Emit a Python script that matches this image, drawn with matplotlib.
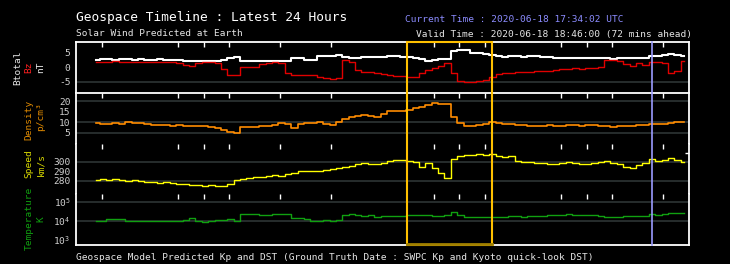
import numpy as np
import matplotlib
matplotlib.use('Agg')
import matplotlib.pyplot as plt
from matplotlib.patches import Rectangle
from matplotlib.lines import Line2D
from matplotlib.transforms import blended_transform_factory
from matplotlib.ticker import NullFormatter

# ---------------- data ----------------
hours = np.round(np.arange(0.80, 23.81, 0.25), 2)

bt = [2.5, 2.8, 2.9, 2.7, 3.0, 2.8, 2.7, 2.9, 2.6, 2.6,
      2.8, 2.5, 2.7, 2.6, 2.3, 2.1, 2.1, 2.2, 2.1, 2.1,
      2.4, 3.2, 3.5, 2.1, 2.1, 2.1, 2.3, 2.1, 2.1, 2.1,
      2.2, 3.4, 3.3, 2.7, 2.7, 3.8, 3.9, 4.1, 4.2, 3.5,
      3.4, 3.3, 3.6, 3.7, 3.5, 3.7, 3.9, 3.8, 3.7, 3.6,
      3.3, 2.8, 2.3, 2.6, 2.8, 3.0, 5.6, 6.0, 5.9, 5.0,
      4.9, 4.8, 4.2, 3.8, 3.7, 3.8, 3.8, 3.7, 3.8, 3.8,
      3.7, 3.6, 3.3, 3.3, 3.3, 3.2, 3.3, 3.3, 3.2, 3.3,
      3.1, 3.0, 3.2, 3.1, 3.3, 3.2, 3.4, 3.8, 4.0, 4.2,
      4.5, 4.4, 4.0]

bz = [1.8, 2.0, 1.9, 2.1, 1.8, 2.0, 1.9, 1.7, 2.0, 1.9,
      1.8, 1.9, 1.8, 1.6, 0.8, 0.5, 1.6, 1.7, 1.8, 1.6,
      -0.5, -2.5, -2.7, 0.1, 0.0, 0.3, 1.0, 1.6, 1.7, 1.5,
      -1.8, -2.5, -2.7, -2.6, -2.8, -3.3, -3.7, -3.9, -3.6, 2.6,
      1.8, -0.8, -1.5, -1.7, -1.8, -2.2, -2.8, -2.9, -2.9, -3.3,
      -3.4, -1.8, -0.9, -0.2, 0.6, 1.4, -2.0, -4.8, -5.2, -4.9,
      -4.6, -4.3, -3.5, -2.3, -2.1, -1.8, -1.7, -1.6, -1.5, -1.4,
      -1.3, -1.2, -0.8, -0.6, -0.5, -0.3, -0.6, -0.2, -0.1, 0.1,
      2.5, 2.6, 2.3, 1.2, 0.5, 1.4, 0.8, 1.9, 1.7, 1.5,
      -2.0, -1.2, 2.2]

density = [9.6, 9.0, 9.2, 9.7, 9.4, 10.0, 9.5, 9.6, 9.1, 8.7,
           8.8, 8.6, 8.5, 8.8, 8.4, 8.5, 8.2, 8.4, 7.9, 7.3,
           6.5, 5.6, 5.2, 7.6, 7.8, 8.0, 8.1, 8.3, 8.6, 9.6,
           9.3, 7.3, 9.0, 9.7, 9.9, 10.3, 9.0, 8.6, 10.3, 11.8,
           12.4, 13.0, 13.5, 13.2, 12.6, 13.8, 15.4, 15.6, 15.2, 16.0,
           16.6, 17.2, 18.2, 19.1, 18.8, 18.9, 12.5, 9.5, 8.3, 8.1,
           8.6, 9.2, 10.2, 9.8, 9.4, 9.1, 8.7, 8.6, 8.4, 8.3,
           8.2, 8.6, 8.4, 8.5, 8.7, 8.8, 8.5, 8.7, 8.9, 8.5,
           8.4, 8.0, 8.1, 8.5, 8.3, 8.6, 8.9, 9.1, 9.0, 9.4,
           9.8, 10.0, 10.4]

speed = [281, 282, 281, 282, 281, 280, 281, 280, 279, 279,
         278, 279, 278, 277, 277, 276, 276, 275, 276, 275,
         275, 277, 281, 282, 283, 284, 284, 285, 286, 285,
         287, 288, 290, 291, 290, 291, 292, 293, 294, 295,
         296, 298, 299, 298, 298, 299, 301, 302, 302, 301,
         300, 295, 299, 294, 288, 283, 303, 306, 307, 307,
         308, 307, 308, 306, 305, 306, 301, 300, 300, 299,
         299, 298, 298, 299, 300, 299, 298, 298, 299, 300,
         301, 299, 298, 295, 294, 297, 299, 303, 301, 302,
         304, 302, 300]

temperature = [10000, 9500, 12000, 12600, 12600, 9500, 9300, 9100, 9500, 9300,
               9500, 9800, 9500, 10000, 11200, 14100, 9500, 8900, 9500, 10500,
               11200, 12000, 9500, 22400, 22900, 22400, 21400, 20900, 21900, 22900,
               24000, 14100, 13200, 12000, 10000, 9800, 10500, 10000, 10700, 20000,
               22900, 20000, 18600, 19100, 16600, 17400, 18200, 18600, 17800, 20000,
               20900, 21400, 20000, 17800, 18600, 19100, 30200, 20000, 15800, 15800,
               15800, 15800, 15800, 16600, 15800, 17400, 17800, 16600, 18200, 17800,
               18600, 20000, 21400, 20900, 21900, 20000, 21400, 20900, 20000, 17800,
               15800, 15800, 16600, 17800, 18200, 17800, 18600, 22400, 21400, 23400,
               25100, 25100, 26300]

tick_hours = [1, 4, 5, 6, 8, 10, 14, 15, 16, 19, 20, 21, 23]
box_start, box_end = 12.96, 16.29
now_hour = 22.55

# ---------------- layout ----------------
W, H = 730, 264
fig = plt.figure(figsize=(W / 100, H / 100), dpi=100, facecolor='black')
mono = 'DejaVu Sans Mono'
plt.rcParams['font.family'] = mono
plt.rcParams['mathtext.default'] = 'regular'

def fx(px):
    return px / W

def fy(py):
    return 1 - py / H

left_px, right_px, top_px, bot_px = 76, 689, 42, 245
ph = (bot_px - top_px) / 4.0
axes = []
for i in range(4):
    t = top_px + i * ph
    ax = fig.add_axes([fx(left_px), fy(t + ph), fx(right_px) - fx(left_px), ph / H])
    ax.set_facecolor('black')
    ax.set_xlim(0, 24)
    axes.append(ax)

ax1, ax2, ax3, ax4 = axes
grid_c = '#293030'
tick_c = '#d0d0d0'
fs_small = 6.8

specs = [
    (ax1, (-8.8, 8.8), [5, 0, -5], ['5', '0', '-5'], [-5], [-5]),
    (ax2, (0, 24), [20, 15, 10, 5], ['20', '15', '10', '5'], [20, 10, 5], [20, 10, 5]),
    (ax3, (266, 319.5), [300, 290, 280], ['300', '290', '280'], [300, 280], [310, 300, 280]),
]
for ax, yl, yt, ylab, grid_vals, right_vals in specs:
    ax.set_ylim(*yl)
    ax.set_yticks(yt)
    ax.set_yticklabels(ylab)
    for g in grid_vals:
        ax.axhline(g, color=grid_c, lw=1.3, zorder=1)
    ax.set_yticks(right_vals, minor=True)

ax4.set_yscale('log')
ax4.set_ylim(10 ** 2.69, 10 ** 5.42)
ax4.set_yticks([1e5, 1e4, 1e3])
ax4.set_yticklabels([r'$10^5$', r'$10^4$', r'$10^3$'])
ax4.set_yticks([1e5, 1e4], minor=True)
ax4.yaxis.set_minor_formatter(NullFormatter())
for g in [1e5, 1e4]:
    ax4.axhline(g, color=grid_c, lw=1.3, zorder=1)

for i, ax in enumerate(axes):
    ax.tick_params(axis='y', which='major', left=True, right=False, length=0,
                   pad=4, labelsize=fs_small, labelcolor=tick_c)
    ax.tick_params(axis='y', which='minor', left=False, right=True, direction='in',
                   length=3, width=1, color='white')
    ax.set_xticks(tick_hours)
    ax.tick_params(axis='x', which='major', top=True, bottom=False, direction='in',
                   length=3.5, width=1, color='white', labelbottom=False, labeltop=False)
    ax.tick_params(axis='x', which='minor', top=False, bottom=False)
    for s in ['left', 'right']:
        ax.spines[s].set_color('white')
        ax.spines[s].set_linewidth(1.3)
    ax.spines['top'].set_visible(i < 2)
    ax.spines['top'].set_color('white')
    ax.spines['top'].set_linewidth(1.3)
    ax.spines['bottom'].set_visible(i == 3)
    ax.spines['bottom'].set_color('white')
    ax.spines['bottom'].set_linewidth(1.3)

# ---------------- data lines ----------------
ax1.plot(hours, bt, color='white', lw=1.5, drawstyle='steps-mid', zorder=3)
ax1.plot(hours, bz, color='#e00000', lw=1.0, drawstyle='steps-mid', zorder=4)
ax2.plot(hours, density, color='#ff8c00', lw=1.2, drawstyle='steps-mid', zorder=3)
ax3.plot(hours, speed, color='#ffff00', lw=1.0, drawstyle='steps-mid', zorder=3)
ax4.plot(hours, temperature, color='#10a010', lw=1.0, drawstyle='steps-mid', zorder=3)

# ---------------- highlight box and current-time line ----------------
btr = blended_transform_factory(ax1.transData, fig.transFigure)
y0, y1 = fy(bot_px), fy(top_px)
fig.add_artist(Rectangle((box_start, y0), box_end - box_start, y1 - y0, transform=btr,
                         fill=False, edgecolor='#ffc000', lw=1.5, zorder=10))
fig.add_artist(Line2D([box_start, box_end], [y0 + 1.0 / H, y0 + 1.0 / H], transform=btr,
                      color='#a08000', lw=2.0, zorder=11))
fig.add_artist(Line2D([now_hour, now_hour], [y0, y1], transform=btr,
                      color='#9a9aff', lw=1.2, zorder=9))

# ---------------- texts ----------------
fig.text(fx(76), fy(18), 'Geospace Timeline : Latest 24 Hours', color='white',
         fontsize=9.3, va='center', ha='left')
fig.text(fx(405), fy(19), 'Current Time : 2020-06-18 17:34:02 UTC', color='#8c8cff',
         fontsize=fs_small, va='center', ha='left')
fig.text(fx(76), fy(34), 'Solar Wind Predicted at Earth', color='#e6e6e6',
         fontsize=fs_small, va='center', ha='left')
fig.text(fx(416), fy(34), 'Valid Time : 2020-06-18 18:46:00 (72 mins ahead)', color='#e6e6e6',
         fontsize=fs_small, va='center', ha='left')
fig.text(fx(76), fy(257),
         'Geospace Model Predicted Kp and DST (Ground Truth Date : SWPC Kp and Kyoto quick-look DST)',
         color='#e6e6e6', fontsize=fs_small, va='center', ha='left')

# rotated y labels
ylabels = [
    ('Btotal', '#e6e6e6', 17.5, 68),
    ('Bz', '#ff2020', 29, 67.5),
    ('nT', '#e6e6e6', 41, 67.5),
    ('Density', '#e08a00', 29, 120),
    ('p/cm³', '#e08a00', 41, 117),
    ('Speed', '#d8d800', 29, 164),
    ('km/s', '#d8d800', 41, 165),
    ('Temperature', '#10a010', 29, 218),
    ('K', '#10a010', 41, 219),
]
for txt, c, px, py in ylabels:
    fig.text(fx(px), fy(py), txt, color=c, fontsize=fs_small, rotation=90,
             ha='center', va='center')

fig.savefig('out.png', dpi=100, facecolor='black')
